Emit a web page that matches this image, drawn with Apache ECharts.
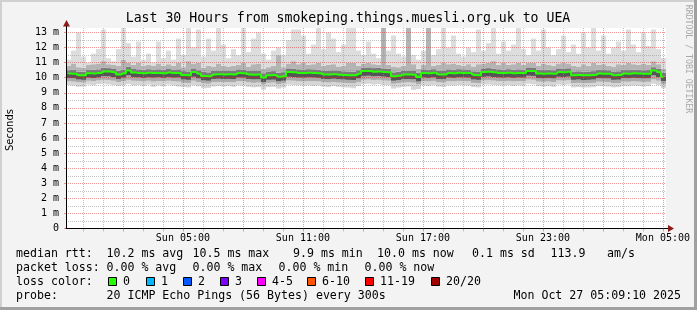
<!DOCTYPE html>
<html><head><meta charset="utf-8">
<script src="https://cdn.jsdelivr.net/npm/echarts@6/dist/echarts.min.js"></script>
<style>html,body{margin:0;padding:0;background:#f3f3f3;overflow:hidden}#c{width:697px;height:310px}</style>
</head><body><div id="c"></div>
<script>
// ---- data (ms), 120 slots of 15 minutes from Sat 23:09 to Mon 05:09 ----
const rttMin = [9.52,9.48,9.40,9.42,9.55,9.50,9.58,9.60,9.56,9.52,
 9.45,9.50,9.58,9.48,9.52,9.46,9.55,9.40,9.50,9.44,
 9.55,9.48,9.42,9.38,9.36,9.50,9.44,9.30,9.32,9.42,
 9.46,9.42,9.45,9.40,9.50,9.48,9.40,9.36,9.38,9.22,
 9.38,9.40,9.28,9.35,9.55,9.52,9.50,9.48,9.50,9.46,
 9.48,9.42,9.38,9.45,9.40,9.36,9.35,9.30,9.45,9.58,
 9.60,9.55,9.58,9.52,9.50,9.28,9.35,9.40,9.42,9.20,
 9.25,9.50,9.46,9.52,9.42,9.40,9.50,9.48,9.52,9.50,
 9.48,9.38,9.36,9.55,9.56,9.52,9.50,9.48,9.52,9.46,
 9.50,9.48,9.60,9.56,9.45,9.42,9.46,9.40,9.55,9.52,
 9.56,9.36,9.38,9.35,9.36,9.38,9.46,9.45,9.42,9.36,
 9.38,9.46,9.44,9.48,9.46,9.42,9.45,9.60,9.52,9.30];
const rttP10 = [9.78,9.74,9.70,9.68,9.80,9.77,9.82,9.86,9.84,9.80,
 9.72,9.78,9.86,9.80,9.79,9.76,9.80,9.74,9.78,9.76,
 9.80,9.77,9.74,9.66,9.64,9.80,9.72,9.62,9.60,9.70,
 9.72,9.70,9.71,9.70,9.78,9.76,9.70,9.66,9.68,9.55,
 9.66,9.68,9.58,9.62,9.82,9.80,9.77,9.76,9.78,9.77,
 9.76,9.70,9.68,9.72,9.68,9.66,9.64,9.62,9.72,9.86,
 9.88,9.84,9.86,9.82,9.80,9.60,9.64,9.68,9.70,9.67,
 9.56,9.78,9.76,9.79,9.70,9.68,9.78,9.76,9.79,9.78,
 9.77,9.66,9.64,9.82,9.84,9.81,9.78,9.77,9.79,9.76,
 9.78,9.77,9.88,9.86,9.74,9.73,9.75,9.72,9.82,9.81,
 9.83,9.64,9.66,9.63,9.64,9.66,9.74,9.73,9.72,9.64,
 9.65,9.74,9.73,9.76,9.74,9.72,9.73,9.88,9.80,9.56];
const rttP25 = [9.98,9.96,9.88,9.86,10.00,9.98,10.01,10.10,10.09,10.05,
 9.92,10.00,10.15,10.03,10.02,9.99,10.02,10.00,10.02,9.99,
 10.03,10.00,10.01,9.88,9.86,10.06,9.95,9.82,9.80,9.92,
 9.93,9.91,9.92,9.91,10.01,10.00,9.92,9.89,9.90,9.72,
 9.86,9.87,9.76,9.80,10.06,10.05,10.01,10.00,10.02,10.01,
 9.99,9.92,9.91,9.93,9.90,9.88,9.86,9.85,9.95,10.12,
 10.13,10.09,10.11,10.07,10.05,9.80,9.84,9.90,9.91,9.89,
 9.75,10.01,9.99,10.02,9.92,9.90,10.01,9.99,10.02,10.01,
 10.00,9.88,9.86,10.06,10.08,10.05,10.01,10.00,10.02,9.99,
 10.01,10.00,10.13,10.12,9.97,9.96,9.98,9.95,10.06,10.05,
 10.07,9.86,9.88,9.85,9.86,9.88,9.97,9.96,9.95,9.86,
 9.87,9.97,9.96,9.99,9.97,9.95,9.96,10.15,10.04,9.76];
const rttMedian = [10.28,10.27,10.17,10.16,10.30,10.29,10.31,10.42,10.41,10.36,
 10.22,10.30,10.48,10.34,10.32,10.30,10.33,10.31,10.32,10.30,
 10.34,10.31,10.32,10.18,10.17,10.38,10.26,10.12,10.10,10.22,
 10.24,10.22,10.23,10.22,10.32,10.30,10.22,10.20,10.21,10.02,
 10.17,10.18,10.06,10.10,10.38,10.36,10.32,10.31,10.33,10.32,
 10.30,10.22,10.21,10.24,10.20,10.18,10.17,10.16,10.26,10.44,
 10.45,10.40,10.42,10.38,10.36,10.10,10.14,10.21,10.22,10.20,
 10.05,10.32,10.30,10.33,10.22,10.21,10.32,10.30,10.33,10.32,
 10.31,10.18,10.17,10.38,10.40,10.37,10.32,10.31,10.33,10.30,
 10.32,10.31,10.45,10.44,10.28,10.27,10.29,10.26,10.38,10.37,
 10.39,10.17,10.18,10.16,10.17,10.19,10.28,10.27,10.26,10.17,
 10.18,10.28,10.27,10.30,10.28,10.26,10.27,10.48,10.36,10.06];
const rttP75 = [10.50,10.52,10.42,10.40,10.55,10.52,10.56,10.66,10.64,10.58,
 10.46,10.55,10.72,10.58,10.56,10.53,10.57,10.55,10.56,10.54,
 10.58,10.55,10.56,10.44,10.42,10.62,10.50,10.38,10.36,10.47,
 10.48,10.46,10.48,10.46,10.56,10.55,10.47,10.45,10.46,10.30,
 10.42,10.44,10.34,10.37,10.62,10.60,10.56,10.55,10.57,10.56,
 10.54,10.47,10.46,10.49,10.45,10.43,10.42,10.41,10.50,10.68,
 10.69,10.64,10.66,10.62,10.60,10.36,10.40,10.46,10.47,10.45,
 10.32,10.56,10.54,10.57,10.47,10.46,10.56,10.54,10.57,10.56,
 10.55,10.43,10.42,10.62,10.64,10.61,10.56,10.55,10.57,10.54,
 10.56,10.55,10.69,10.68,10.52,10.51,10.53,10.50,10.62,10.61,
 10.63,10.42,10.43,10.41,10.42,10.44,10.52,10.51,10.50,10.42,
 10.43,10.52,10.51,10.54,10.52,10.50,10.51,10.70,10.60,10.34];
const rttP90 = [10.80,10.95,10.70,10.65,10.85,10.90,10.95,11.10,10.90,10.85,
 10.80,11.20,11.00,10.85,11.00,10.80,10.85,10.80,10.95,10.80,
 10.90,10.80,11.00,10.70,11.10,10.95,11.00,10.65,10.80,10.75,
 10.95,10.80,10.75,10.80,10.85,11.00,10.75,10.90,10.95,10.60,
 10.70,10.80,11.50,10.70,10.95,11.10,10.90,11.00,10.85,10.90,
 11.00,10.80,10.85,10.90,10.75,10.80,11.00,11.00,10.80,10.95,
 11.00,10.90,10.85,13.30,10.85,10.75,10.70,10.80,13.30,10.90,
 10.60,10.85,13.30,10.80,10.85,11.00,10.90,10.95,10.85,10.80,
 10.90,10.75,10.90,10.95,11.00,11.10,10.85,11.00,10.85,10.90,
 11.00,10.85,11.00,11.00,10.80,10.95,10.85,10.80,10.95,11.00,
 10.95,10.80,10.75,10.90,10.80,11.00,10.85,10.90,10.80,10.75,
 10.90,10.85,11.00,10.90,10.85,10.95,10.85,11.10,10.90,10.60];
const rttMax = [11.2,11.8,13.0,11.4,11.0,11.6,11.9,13.2,11.3,11.1,
 11.9,13.3,12.3,11.4,12.4,11.2,11.6,11.0,12.4,11.3,
 11.8,11.2,12.6,11.5,13.3,12.0,13.2,11.4,12.6,11.8,
 13.3,12.2,11.3,11.9,11.5,13.3,11.7,12.6,13.0,11.6,
 11.2,11.8,12.0,11.5,12.5,13.2,13.2,12.8,11.6,12.2,
 13.3,11.9,13.0,12.6,11.7,12.2,13.3,13.3,11.8,11.5,
 12.4,11.6,11.3,13.3,11.8,12.8,11.6,11.4,13.3,11.5,
 11.2,11.8,13.3,11.5,11.9,13.3,12.0,12.8,11.6,11.4,
 12.0,11.7,13.2,11.8,12.3,13.3,11.6,12.4,11.8,12.2,
 13.3,11.9,11.5,12.6,11.8,13.2,12.0,11.5,11.9,12.8,
 11.7,12.2,11.6,13.0,12.0,13.3,11.8,12.8,11.6,12.0,
 12.4,11.8,13.2,12.2,11.7,13.0,12.1,13.2,11.9,11.3];

// ---- axes: hours since Sun 00:00 ----
const xMinHour = -0.847, xMaxHour = 29.153, slotHours = 0.25;
const majorHours = [2,5,8,11,14,17,20,23,26,29];
const minorHours = [0,1,3,4,6,7,9,10,12,13,15,16,18,19,21,22,24,25,27,28];
const labelHours = [5,11,17,23,29];
const labelTexts = ['Sun 05:00','Sun 11:00','Sun 17:00','Sun 23:00','Mon 05:00'];
const yMajor = [0,1,2,3,4,5,6,7,8,9,10,11,12,13];
const yMinor = [0.5,1.5,2.5,3.5,4.5,5.5,6.5,7.5,8.5,9.5,10.5,11.5,12.5];
const yMaxMs = 13.3;

const lossLabels = ['0','1','2','3','4-5','6-10','11-19','20/20'];
const lossColors = ['#26ff00','#00b8ff','#0059ff','#7e00ff','#ff00ff','#ff5500','#ff0000','#a10000'];

const titleText = 'Last 30 Hours from smokeping.things.muesli.org.uk to UEA';
const legendRow1 = ['median rtt:','10.2 ms avg','10.5 ms max','9.9 ms min','10.0 ms now','0.1 ms sd','113.9','am/s'];
const legendRow2 = ['packet loss:','0.00 % avg','0.00 % max','0.00 % min','0.00 % now'];
const legendRow3 = ['loss color:'];
const legendRow4 = ['probe:','20 ICMP Echo Pings (56 Bytes) every 300s'];
const dateText = 'Mon Oct 27 05:09:10 2025';

// categories (slot start times)
const categories = [];
for (let i = 0; i < rttMedian.length; i++) {
  const h = xMinHour + i * slotHours;
  const hh = ((Math.floor(h) % 24) + 24) % 24;
  const mm = Math.round((h - Math.floor(h)) * 60);
  categories.push(String(hh).padStart(2,'0') + ':' + String(mm).padStart(2,'0'));
}
const diff = (a, b) => a.map((v, i) => +(v - b[i]).toFixed(3));

const MONO = '"DejaVu Sans Mono", "Liberation Mono", monospace';
const MGRID = 'rgba(222,48,48,0.5)';
const GRID = 'rgba(143,143,143,0.55)';

const chart = echarts.init(document.getElementById('c'), null, {renderer: 'canvas'});

function band(name, data, color) {
  return {name, type: 'bar', stack: 'smoke', data, xAxisIndex: 0, yAxisIndex: 0,
    barWidth: '100%', barCategoryGap: 0, itemStyle: {color}, silent: true, animation: false, z: 2};
}

const graphics = [];
// frame
graphics.push({type:'rect', shape:{x:0,y:0,width:697,height:2}, style:{fill:'#d0d0d0'}, silent:true});
graphics.push({type:'rect', shape:{x:0,y:0,width:2,height:310}, style:{fill:'#d0d0d0'}, silent:true});
graphics.push({type:'rect', shape:{x:694,y:0,width:3,height:310}, style:{fill:'#a0a0a0'}, silent:true});
graphics.push({type:'rect', shape:{x:0,y:307,width:697,height:3}, style:{fill:'#a0a0a0'}, silent:true});
// title
graphics.push({type:'text', x:348, y:19, silent:true,
  style:{text:titleText, font:'13.2px ' + MONO, fill:'#000', align:'center', verticalAlign:'middle'}});
// Seconds
graphics.push({type:'text', x:10, y:130, rotation:Math.PI/2, silent:true,
  style:{text:'Seconds', font:'10px "DejaVu Sans", sans-serif', fill:'#000', align:'center', verticalAlign:'middle'}});
// watermark
graphics.push({type:'text', x:688, y:59, rotation:-Math.PI/2, silent:true,
  style:{text:'RRDTOOL / TOBI OETIKER', font:'8.2px ' + MONO, fill:'#a8a8a8', align:'center', verticalAlign:'middle'}});
// legend rows (item x positions)
const lf = '11.6px ' + MONO;
function rowText(items, xs, y) {
  items.forEach((s, i) => graphics.push({type:'text', x:xs[i], y, silent:true,
    style:{text:s, font:lf, fill:'#000', align:'left', verticalAlign:'middle'}}));
}
rowText(legendRow1, [16, 106.5, 192.5, 293, 377, 472, 550.5, 607], 254);
rowText(legendRow2, [16, 106.5, 192.5, 278.5, 364.5], 268);
rowText(legendRow3, [16], 282);
rowText(legendRow4, [16, 106.5], 296);
graphics.push({type:'text', x:681, y:296, silent:true, style:{text:dateText, font:lf, fill:'#000', align:'right', verticalAlign:'middle'}});
const boxX = [108, 145.5, 182.5, 220, 257, 307, 365, 430.5];
lossLabels.forEach((lab, i) => {
  graphics.push({type:'rect', shape:{x:Math.round(boxX[i])+0.5, y:277.5, width:8, height:8}, silent:true,
    style:{fill:lossColors[i], stroke:'#000', lineWidth:1}});
  graphics.push({type:'text', x:Math.round(boxX[i])+15, y:282, silent:true,
    style:{text:lab, font:lf, fill:'#000', align:'left', verticalAlign:'middle'}});
});
// axis arrows
const arrowCol = '#8b1a1a';
graphics.push({type:'polygon', shape:{points:[[66.5,20],[63,26.5],[70,26.5]]}, style:{fill:arrowCol}, silent:true, z:20});
graphics.push({type:'line', shape:{x1:66.5,y1:26,x2:66.5,y2:28}, style:{stroke:'#000',lineWidth:1}, silent:true, z:20});
graphics.push({type:'polygon', shape:{points:[[674,228.5],[668,225],[668,232]]}, style:{fill:arrowCol}, silent:true, z:20});
graphics.push({type:'line', shape:{x1:666,y1:228.5,x2:668,y2:228.5}, style:{stroke:'#000',lineWidth:1}, silent:true, z:20});

const option = {
  animation: false,
  backgroundColor: '#f3f3f3',
  grid: {left: 66, top: 28, width: 600, height: 200.5, backgroundColor: '#ffffff', show: true, borderWidth: 0},
  xAxis: [
    {type: 'category', data: categories, show: false, boundaryGap: true},
    {type: 'value', min: xMinHour, max: xMaxHour, position: 'bottom', z: 5,
      axisLine: {show: true, onZero: false, lineStyle: {color: '#000', width: 1}},
      axisTick: {show: true, customValues: majorHours, length: 3, lineStyle: {color: MGRID}},
      axisLabel: {show: true, customValues: labelHours, margin: 5, color: '#000',
        fontFamily: MONO, fontSize: 10,
        formatter: v => labelTexts[labelHours.indexOf(Math.round(v))] || ''},
      splitLine: {show: true, lineStyle: {color: MGRID, type: [1, 1], width: 1}}},
    {type: 'value', min: xMinHour, max: xMaxHour, position: 'bottom', z: 4,
      axisLine: {show: false},
      axisTick: {show: true, customValues: minorHours, length: 3, lineStyle: {color: GRID}},
      axisLabel: {show: false},
      splitLine: {show: true, lineStyle: {color: GRID, type: [1, 1], width: 1}}}
  ],
  yAxis: [
    {type: 'value', min: 0, max: yMaxMs, z: 5, position: 'left',
      axisLine: {show: true, onZero: false, lineStyle: {color: '#000', width: 1}},
      axisTick: {show: true, customValues: yMajor, length: 2, lineStyle: {color: MGRID}},
      axisLabel: {show: true, customValues: yMajor, margin: 7, color: '#000', fontFamily: MONO, fontSize: 10,
        formatter: v => v === 0 ? '0' : v + ' m'},
      splitLine: {show: true, lineStyle: {color: MGRID, type: [1, 1], width: 1}}}
  ],
  series: [
    band('base', rttMin, 'rgba(0,0,0,0)'),
    band('min-p10', diff(rttP10, rttMin), '#d6d6d6'),
    band('p10-p25', diff(rttP25, rttP10), '#ababab'),
    band('p25-med', diff(rttMedian, rttP25), '#555555'),
    band('med-p75', diff(rttP75, rttMedian), '#7a7a7a'),
    band('p75-p90', diff(rttP90, rttP75), '#b4b4b4'),
    band('p90-max', diff(rttMax, rttP90), '#dddddd'),
    {name: 'minor grid', type: 'custom', coordinateSystem: 'cartesian2d', xAxisIndex: 0, yAxisIndex: 0,
      silent: true, z: 4, clip: false, animation: false,
      data: yMinor.map(v => [0, v]), encode: {x: 0, y: 1},
      renderItem: (params, api) => {
        const cs = params.coordSys;
        const y = Math.round(api.coord([0, api.value(1)])[1]) + 0.5;
        return {type: 'line', silent: true,
          shape: {x1: cs.x, y1: y, x2: cs.x + cs.width, y2: y},
          style: {stroke: GRID, lineWidth: 1, lineDash: [1, 1]}};
      }},
    {name: 'median', type: 'line', data: rttMedian, xAxisIndex: 0, yAxisIndex: 0,
      step: 'middle', symbol: 'none', z: 10, silent: true,
      lineStyle: {color: '#26ff00', width: 2}}
  ],
  graphic: graphics
};
chart.setOption(option);
</script>
</body></html>
